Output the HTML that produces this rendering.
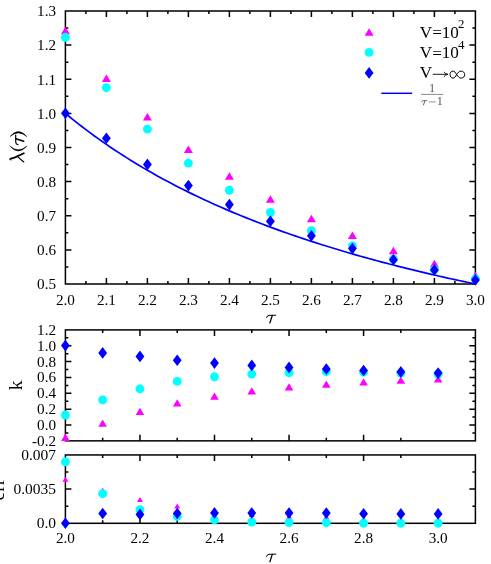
<!DOCTYPE html>
<html><head><meta charset="utf-8"><title>plot</title>
<style>
html,body{margin:0;padding:0;background:#fff;}
body{width:491px;height:564px;overflow:hidden;}
svg{display:block;will-change:transform;font-family:"Liberation Serif",serif;fill:#000;}
</style></head><body>
<svg width="491" height="564" viewBox="0 0 491 564">
<rect width="491" height="564" fill="#fff"/>
<rect x="65.4" y="11.0" width="410.00" height="273.00" stroke="#000" stroke-width="1.5" fill="none"/>
<path d="M106.40 11.0v6.0M106.40 284.0v-6.0M147.40 11.0v6.0M147.40 284.0v-6.0M188.40 11.0v6.0M188.40 284.0v-6.0M229.40 11.0v6.0M229.40 284.0v-6.0M270.40 11.0v6.0M270.40 284.0v-6.0M311.40 11.0v6.0M311.40 284.0v-6.0M352.40 11.0v6.0M352.40 284.0v-6.0M393.40 11.0v6.0M393.40 284.0v-6.0M434.40 11.0v6.0M434.40 284.0v-6.0" stroke="#000" stroke-width="1.5" fill="none"/>
<path d="M85.90 11.0v3.0M85.90 284.0v-3.0M126.90 11.0v3.0M126.90 284.0v-3.0M167.90 11.0v3.0M167.90 284.0v-3.0M208.90 11.0v3.0M208.90 284.0v-3.0M249.90 11.0v3.0M249.90 284.0v-3.0M290.90 11.0v3.0M290.90 284.0v-3.0M331.90 11.0v3.0M331.90 284.0v-3.0M372.90 11.0v3.0M372.90 284.0v-3.0M413.90 11.0v3.0M413.90 284.0v-3.0M454.90 11.0v3.0M454.90 284.0v-3.0" stroke="#000" stroke-width="1.5" fill="none"/>
<path d="M65.4 45.12h6.0M475.4 45.12h-6.0M65.4 79.25h6.0M475.4 79.25h-6.0M65.4 113.38h6.0M475.4 113.38h-6.0M65.4 147.50h6.0M475.4 147.50h-6.0M65.4 181.62h6.0M475.4 181.62h-6.0M65.4 215.75h6.0M475.4 215.75h-6.0M65.4 249.88h6.0M475.4 249.88h-6.0" stroke="#000" stroke-width="1.5" fill="none"/>
<path d="M65.4 28.06h3.0M475.4 28.06h-3.0M65.4 62.19h3.0M475.4 62.19h-3.0M65.4 96.31h3.0M475.4 96.31h-3.0M65.4 130.44h3.0M475.4 130.44h-3.0M65.4 164.56h3.0M475.4 164.56h-3.0M65.4 198.69h3.0M475.4 198.69h-3.0M65.4 232.81h3.0M475.4 232.81h-3.0M65.4 266.94h3.0M475.4 266.94h-3.0" stroke="#000" stroke-width="1.5" fill="none"/>
<rect x="65.4" y="329.9" width="410.00" height="110.95" stroke="#000" stroke-width="1.5" fill="none"/>
<path d="M139.95 329.9v6.0M139.95 440.85v-6.0M214.49 329.9v6.0M214.49 440.85v-6.0M289.04 329.9v6.0M289.04 440.85v-6.0M363.58 329.9v6.0M363.58 440.85v-6.0" stroke="#000" stroke-width="1.5" fill="none"/>
<path d="M102.67 329.9v3.0M102.67 440.85v-3.0M177.22 329.9v3.0M177.22 440.85v-3.0M251.76 329.9v3.0M251.76 440.85v-3.0M326.31 329.9v3.0M326.31 440.85v-3.0M400.85 329.9v3.0M400.85 440.85v-3.0" stroke="#000" stroke-width="1.5" fill="none"/>
<path d="M65.4 345.75h6.0M475.4 345.75h-6.0M65.4 361.60h6.0M475.4 361.60h-6.0M65.4 377.45h6.0M475.4 377.45h-6.0M65.4 393.30h6.0M475.4 393.30h-6.0M65.4 409.15h6.0M475.4 409.15h-6.0M65.4 425.00h6.0M475.4 425.00h-6.0" stroke="#000" stroke-width="1.5" fill="none"/>
<path d="M65.4 337.82h3.0M475.4 337.82h-3.0M65.4 353.68h3.0M475.4 353.68h-3.0M65.4 369.52h3.0M475.4 369.52h-3.0M65.4 385.38h3.0M475.4 385.38h-3.0M65.4 401.23h3.0M475.4 401.23h-3.0M65.4 417.08h3.0M475.4 417.08h-3.0M65.4 432.93h3.0M475.4 432.93h-3.0" stroke="#000" stroke-width="1.5" fill="none"/>
<rect x="65.4" y="454.95" width="410.00" height="68.35" stroke="#000" stroke-width="1.5" fill="none"/>
<path d="M139.95 454.95v6.0M139.95 523.3v-6.0M214.49 454.95v6.0M214.49 523.3v-6.0M289.04 454.95v6.0M289.04 523.3v-6.0M363.58 454.95v6.0M363.58 523.3v-6.0" stroke="#000" stroke-width="1.5" fill="none"/>
<path d="M102.67 454.95v3.0M102.67 523.3v-3.0M177.22 454.95v3.0M177.22 523.3v-3.0M251.76 454.95v3.0M251.76 523.3v-3.0M326.31 454.95v3.0M326.31 523.3v-3.0M400.85 454.95v3.0M400.85 523.3v-3.0" stroke="#000" stroke-width="1.5" fill="none"/>
<path d="M65.4 489.12h6.0M475.4 489.12h-6.0" stroke="#000" stroke-width="1.5" fill="none"/>
<path d="M65.4 472.04h3.0M475.4 472.04h-3.0M65.4 506.21h3.0M475.4 506.21h-3.0" stroke="#000" stroke-width="1.5" fill="none"/>
<path d="M65.40 26.70l4.50 7.50h-9.00z" fill="#ff00ff"/>
<path d="M106.40 74.40l4.50 7.50h-9.00z" fill="#ff00ff"/>
<path d="M147.40 113.00l4.50 7.50h-9.00z" fill="#ff00ff"/>
<path d="M188.40 145.40l4.50 7.50h-9.00z" fill="#ff00ff"/>
<path d="M229.40 172.30l4.50 7.50h-9.00z" fill="#ff00ff"/>
<path d="M270.40 195.20l4.50 7.50h-9.00z" fill="#ff00ff"/>
<path d="M311.40 214.80l4.50 7.50h-9.00z" fill="#ff00ff"/>
<path d="M352.40 231.60l4.50 7.50h-9.00z" fill="#ff00ff"/>
<path d="M393.40 246.70l4.50 7.50h-9.00z" fill="#ff00ff"/>
<path d="M434.40 259.80l4.50 7.50h-9.00z" fill="#ff00ff"/>
<path d="M475.40 271.50l4.50 7.50h-9.00z" fill="#ff00ff"/>
<circle cx="65.40" cy="37.30" r="4.45" fill="#00ffff"/>
<circle cx="106.40" cy="87.70" r="4.45" fill="#00ffff"/>
<circle cx="147.40" cy="129.10" r="4.45" fill="#00ffff"/>
<circle cx="188.40" cy="163.10" r="4.45" fill="#00ffff"/>
<circle cx="229.40" cy="190.30" r="4.45" fill="#00ffff"/>
<circle cx="270.40" cy="212.50" r="4.45" fill="#00ffff"/>
<circle cx="311.40" cy="230.60" r="4.45" fill="#00ffff"/>
<circle cx="352.40" cy="245.80" r="4.45" fill="#00ffff"/>
<circle cx="393.40" cy="259.00" r="4.45" fill="#00ffff"/>
<circle cx="434.40" cy="269.50" r="4.45" fill="#00ffff"/>
<circle cx="475.40" cy="278.80" r="4.45" fill="#00ffff"/>
<polyline points="65.40,113.38 69.50,116.75 73.60,120.07 77.70,123.31 81.80,126.50 85.90,129.62 90.00,132.69 94.10,135.70 98.20,138.65 102.30,141.55 106.40,144.40 110.50,147.19 114.60,149.94 118.70,152.63 122.80,155.28 126.90,157.89 131.00,160.44 135.10,162.96 139.20,165.43 143.30,167.86 147.40,170.25 151.50,172.60 155.60,174.91 159.70,177.19 163.80,179.42 167.90,181.62 172.00,183.79 176.10,185.92 180.20,188.02 184.30,190.09 188.40,192.12 192.50,194.13 196.60,196.10 200.70,198.05 204.80,199.96 208.90,201.85 213.00,203.71 217.10,205.54 221.20,207.34 225.30,209.12 229.40,210.88 233.50,212.60 237.60,214.31 241.70,215.99 245.80,217.65 249.90,219.28 254.00,220.89 258.10,222.48 262.20,224.05 266.30,225.60 270.40,227.13 274.50,228.63 278.60,230.12 282.70,231.59 286.80,233.03 290.90,234.46 295.00,235.88 299.10,237.27 303.20,238.64 307.30,240.00 311.40,241.34 315.50,242.67 319.60,243.98 323.70,245.27 327.80,246.55 331.90,247.81 336.00,249.05 340.10,250.28 344.20,251.50 348.30,252.70 352.40,253.89 356.50,255.06 360.60,256.22 364.70,257.37 368.80,258.50 372.90,259.62 377.00,260.73 381.10,261.83 385.20,262.91 389.30,263.98 393.40,265.04 397.50,266.09 401.60,267.12 405.70,268.15 409.80,269.16 413.90,270.17 418.00,271.16 422.10,272.14 426.20,273.11 430.30,274.07 434.40,275.02 438.50,275.96 442.60,276.89 446.70,277.81 450.80,278.72 454.90,279.62 459.00,280.52 463.10,281.40 467.20,282.28 471.30,283.14 475.40,284.00" fill="none" stroke="#0000ff" stroke-width="1.7"/>
<path d="M65.40 107.50l4.40 5.80l-4.40 5.80l-4.40 -5.80z" fill="#0000ff"/>
<path d="M106.40 132.50l4.40 5.80l-4.40 5.80l-4.40 -5.80z" fill="#0000ff"/>
<path d="M147.40 158.60l4.40 5.80l-4.40 5.80l-4.40 -5.80z" fill="#0000ff"/>
<path d="M188.40 179.80l4.40 5.80l-4.40 5.80l-4.40 -5.80z" fill="#0000ff"/>
<path d="M229.40 198.80l4.40 5.80l-4.40 5.80l-4.40 -5.80z" fill="#0000ff"/>
<path d="M270.40 215.50l4.40 5.80l-4.40 5.80l-4.40 -5.80z" fill="#0000ff"/>
<path d="M311.40 229.90l4.40 5.80l-4.40 5.80l-4.40 -5.80z" fill="#0000ff"/>
<path d="M352.40 242.80l4.40 5.80l-4.40 5.80l-4.40 -5.80z" fill="#0000ff"/>
<path d="M393.40 254.00l4.40 5.80l-4.40 5.80l-4.40 -5.80z" fill="#0000ff"/>
<path d="M434.40 264.10l4.40 5.80l-4.40 5.80l-4.40 -5.80z" fill="#0000ff"/>
<path d="M475.40 274.10l4.40 5.80l-4.40 5.80l-4.40 -5.80z" fill="#0000ff"/>
<path d="M65.40 433.60l4.30 7.30h-8.60z" fill="#ff00ff"/>
<path d="M102.67 419.50l4.30 7.30h-8.60z" fill="#ff00ff"/>
<path d="M139.95 407.80l4.30 7.30h-8.60z" fill="#ff00ff"/>
<path d="M177.22 399.20l4.30 7.30h-8.60z" fill="#ff00ff"/>
<path d="M214.49 392.40l4.30 7.30h-8.60z" fill="#ff00ff"/>
<path d="M251.76 387.20l4.30 7.30h-8.60z" fill="#ff00ff"/>
<path d="M289.04 383.30l4.30 7.30h-8.60z" fill="#ff00ff"/>
<path d="M326.31 380.40l4.30 7.30h-8.60z" fill="#ff00ff"/>
<path d="M363.58 378.20l4.30 7.30h-8.60z" fill="#ff00ff"/>
<path d="M400.85 376.40l4.30 7.30h-8.60z" fill="#ff00ff"/>
<path d="M438.13 375.20l4.30 7.30h-8.60z" fill="#ff00ff"/>
<circle cx="65.40" cy="415.00" r="4.45" fill="#00ffff"/>
<circle cx="102.67" cy="399.90" r="4.45" fill="#00ffff"/>
<circle cx="139.95" cy="388.90" r="4.45" fill="#00ffff"/>
<circle cx="177.22" cy="381.40" r="4.45" fill="#00ffff"/>
<circle cx="214.49" cy="376.80" r="4.45" fill="#00ffff"/>
<circle cx="251.76" cy="374.10" r="4.45" fill="#00ffff"/>
<circle cx="289.04" cy="372.70" r="4.45" fill="#00ffff"/>
<circle cx="326.31" cy="371.70" r="4.45" fill="#00ffff"/>
<circle cx="363.58" cy="372.10" r="4.45" fill="#00ffff"/>
<circle cx="400.85" cy="373.00" r="4.45" fill="#00ffff"/>
<circle cx="438.13" cy="374.00" r="4.45" fill="#00ffff"/>
<path d="M65.40 339.80l4.40 5.80l-4.40 5.80l-4.40 -5.80z" fill="#0000ff"/>
<path d="M102.67 347.10l4.40 5.80l-4.40 5.80l-4.40 -5.80z" fill="#0000ff"/>
<path d="M139.95 350.60l4.40 5.80l-4.40 5.80l-4.40 -5.80z" fill="#0000ff"/>
<path d="M177.22 354.50l4.40 5.80l-4.40 5.80l-4.40 -5.80z" fill="#0000ff"/>
<path d="M214.49 357.30l4.40 5.80l-4.40 5.80l-4.40 -5.80z" fill="#0000ff"/>
<path d="M251.76 359.60l4.40 5.80l-4.40 5.80l-4.40 -5.80z" fill="#0000ff"/>
<path d="M289.04 361.60l4.40 5.80l-4.40 5.80l-4.40 -5.80z" fill="#0000ff"/>
<path d="M326.31 363.20l4.40 5.80l-4.40 5.80l-4.40 -5.80z" fill="#0000ff"/>
<path d="M363.58 364.70l4.40 5.80l-4.40 5.80l-4.40 -5.80z" fill="#0000ff"/>
<path d="M400.85 366.10l4.40 5.80l-4.40 5.80l-4.40 -5.80z" fill="#0000ff"/>
<path d="M438.13 367.30l4.40 5.80l-4.40 5.80l-4.40 -5.80z" fill="#0000ff"/>
<path d="M65.40 476.70l3.00 5.00h-6.00z" fill="#ff00ff"/>
<path d="M102.67 487.80l3.00 5.00h-6.00z" fill="#ff00ff"/>
<path d="M139.95 497.00l3.00 5.00h-6.00z" fill="#ff00ff"/>
<path d="M177.22 503.60l3.00 5.00h-6.00z" fill="#ff00ff"/>
<path d="M214.49 509.50l3.00 5.00h-6.00z" fill="#ff00ff"/>
<path d="M251.76 511.90l3.00 5.00h-6.00z" fill="#ff00ff"/>
<path d="M289.04 513.40l3.00 5.00h-6.00z" fill="#ff00ff"/>
<path d="M326.31 514.30l3.00 5.00h-6.00z" fill="#ff00ff"/>
<path d="M363.58 517.50l3.00 5.00h-6.00z" fill="#ff00ff"/>
<path d="M400.85 518.00l3.00 5.00h-6.00z" fill="#ff00ff"/>
<path d="M438.13 518.00l3.00 5.00h-6.00z" fill="#ff00ff"/>
<circle cx="65.40" cy="461.80" r="4.45" fill="#00ffff"/>
<circle cx="102.67" cy="493.70" r="4.45" fill="#00ffff"/>
<circle cx="139.95" cy="509.60" r="4.45" fill="#00ffff"/>
<circle cx="177.22" cy="516.30" r="4.45" fill="#00ffff"/>
<circle cx="214.49" cy="519.80" r="4.45" fill="#00ffff"/>
<circle cx="251.76" cy="522.00" r="4.45" fill="#00ffff"/>
<circle cx="289.04" cy="522.50" r="4.45" fill="#00ffff"/>
<circle cx="326.31" cy="522.70" r="4.45" fill="#00ffff"/>
<circle cx="363.58" cy="523.20" r="4.45" fill="#00ffff"/>
<circle cx="400.85" cy="523.20" r="4.45" fill="#00ffff"/>
<circle cx="438.13" cy="523.20" r="4.45" fill="#00ffff"/>
<path d="M65.40 517.40l4.40 5.80l-4.40 5.80l-4.40 -5.80z" fill="#0000ff"/>
<path d="M102.67 507.70l4.40 5.80l-4.40 5.80l-4.40 -5.80z" fill="#0000ff"/>
<path d="M139.95 508.60l4.40 5.80l-4.40 5.80l-4.40 -5.80z" fill="#0000ff"/>
<path d="M177.22 507.70l4.40 5.80l-4.40 5.80l-4.40 -5.80z" fill="#0000ff"/>
<path d="M214.49 507.10l4.40 5.80l-4.40 5.80l-4.40 -5.80z" fill="#0000ff"/>
<path d="M251.76 507.20l4.40 5.80l-4.40 5.80l-4.40 -5.80z" fill="#0000ff"/>
<path d="M289.04 507.20l4.40 5.80l-4.40 5.80l-4.40 -5.80z" fill="#0000ff"/>
<path d="M326.31 507.20l4.40 5.80l-4.40 5.80l-4.40 -5.80z" fill="#0000ff"/>
<path d="M363.58 508.00l4.40 5.80l-4.40 5.80l-4.40 -5.80z" fill="#0000ff"/>
<path d="M400.85 508.10l4.40 5.80l-4.40 5.80l-4.40 -5.80z" fill="#0000ff"/>
<path d="M438.13 508.10l4.40 5.80l-4.40 5.80l-4.40 -5.80z" fill="#0000ff"/>
<text x="56.10" y="16.30" font-size="15.2" text-anchor="end" >1.3</text>
<text x="56.10" y="50.42" font-size="15.2" text-anchor="end" >1.2</text>
<text x="56.10" y="84.55" font-size="15.2" text-anchor="end" >1.1</text>
<text x="56.10" y="118.67" font-size="15.2" text-anchor="end" >1.0</text>
<text x="56.10" y="152.80" font-size="15.2" text-anchor="end" >0.9</text>
<text x="56.10" y="186.93" font-size="15.2" text-anchor="end" >0.8</text>
<text x="56.10" y="221.05" font-size="15.2" text-anchor="end" >0.7</text>
<text x="56.10" y="255.18" font-size="15.2" text-anchor="end" >0.6</text>
<text x="56.10" y="289.30" font-size="15.2" text-anchor="end" >0.5</text>
<text x="65.40" y="305.00" font-size="15.2" text-anchor="middle" >2.0</text>
<text x="106.40" y="305.00" font-size="15.2" text-anchor="middle" >2.1</text>
<text x="147.40" y="305.00" font-size="15.2" text-anchor="middle" >2.2</text>
<text x="188.40" y="305.00" font-size="15.2" text-anchor="middle" >2.3</text>
<text x="229.40" y="305.00" font-size="15.2" text-anchor="middle" >2.4</text>
<text x="270.40" y="305.00" font-size="15.2" text-anchor="middle" >2.5</text>
<text x="311.40" y="305.00" font-size="15.2" text-anchor="middle" >2.6</text>
<text x="352.40" y="305.00" font-size="15.2" text-anchor="middle" >2.7</text>
<text x="393.40" y="305.00" font-size="15.2" text-anchor="middle" >2.8</text>
<text x="434.40" y="305.00" font-size="15.2" text-anchor="middle" >2.9</text>
<text x="475.40" y="305.00" font-size="15.2" text-anchor="middle" >3.0</text>
<text x="56.10" y="334.90" font-size="15.2" text-anchor="end" >1.2</text>
<text x="56.10" y="350.75" font-size="15.2" text-anchor="end" >1.0</text>
<text x="56.10" y="366.60" font-size="15.2" text-anchor="end" >0.8</text>
<text x="56.10" y="382.45" font-size="15.2" text-anchor="end" >0.6</text>
<text x="56.10" y="398.30" font-size="15.2" text-anchor="end" >0.4</text>
<text x="56.10" y="414.15" font-size="15.2" text-anchor="end" >0.2</text>
<text x="56.10" y="430.00" font-size="15.2" text-anchor="end" >0.0</text>
<text x="56.10" y="445.85" font-size="15.2" text-anchor="end" >-0.2</text>
<text x="56.00" y="459.95" font-size="15.5" text-anchor="end" >0.007</text>
<text x="56.00" y="494.12" font-size="15.5" text-anchor="end" >0.0035</text>
<text x="56.00" y="528.30" font-size="15.5" text-anchor="end" >0.0</text>
<text x="65.40" y="543.40" font-size="15.2" text-anchor="middle" >2.0</text>
<text x="139.95" y="543.40" font-size="15.2" text-anchor="middle" >2.2</text>
<text x="214.49" y="543.40" font-size="15.2" text-anchor="middle" >2.4</text>
<text x="289.04" y="543.40" font-size="15.2" text-anchor="middle" >2.6</text>
<text x="363.58" y="543.40" font-size="15.2" text-anchor="middle" >2.8</text>
<text x="438.13" y="543.40" font-size="15.2" text-anchor="middle" >3.0</text>
<g fill="none" stroke="#000" stroke-linecap="round"><path d="M10.6 160.3Q9.6 159.6 10.3 158.6" stroke-width="0.9"/><path d="M10.3 158.9L15 157.3L23.8 153.3" stroke-width="1.8"/><path d="M17.2 156.4L23.8 162.0" stroke-width="1.15"/></g>
<path d="M9.8 146.0Q18.3 156.0 27.0 146.0Q18.3 153.4 9.8 146.0z" fill="#000" stroke="#000" stroke-width="0.45"/>
<path d="M10.0 136.6Q18.3 126.6 26.8 136.6Q18.3 129.2 10.0 136.6z" fill="#000" stroke="#000" stroke-width="0.45"/>
<g transform="translate(23.9 144.9) rotate(-90)">
<path d="M0.16 -5.88Q0.95 -8.09 2.73 -8.14L9.87 -8.24" fill="none" stroke="#000" stroke-width="1.20" stroke-linecap="round"/>
<path d="M6.14 -7.98Q4.73 -3.57 3.68 -0.26" fill="none" stroke="#000" stroke-width="1.56" stroke-linecap="round"/>
</g>
<text transform="translate(22.2 385.3) rotate(-90)" font-size="19.5" text-anchor="middle">k</text>
<text transform="translate(4.1 489.6) rotate(-90)" font-size="19.5" text-anchor="middle">err</text>
<path d="M369.10 28.20l4.50 7.50h-9.00z" fill="#ff00ff"/>
<circle cx="369.10" cy="52.40" r="4.45" fill="#00ffff"/>
<path d="M369.10 67.10l4.40 5.80l-4.40 5.80l-4.40 -5.80z" fill="#0000ff"/>
<path d="M381.3 93.3H412.2" stroke="#0000ff" stroke-width="1.5"/>
<text x="419.8" y="37.5" font-size="17.1">V<tspan dy="0.9">=</tspan><tspan dy="-0.9">10</tspan><tspan dy="-9.1" dx="-0.8" font-size="12.9">2</tspan></text>
<text x="419.8" y="57.85" font-size="17.1">V<tspan dy="0.9">=</tspan><tspan dy="-0.9">10</tspan><tspan dy="-9.1" dx="-0.8" font-size="12.9">4</tspan></text>
<text x="419.8" y="78.2" font-size="17.1">V</text>
<path d="M432.8 74.3H447.4M443.9 71.9Q445.3 73.9 447.9 74.3Q445.3 74.7 443.9 76.7" fill="none" stroke="#000" stroke-width="0.9"/>
<path d="M456.6 74.6C458.06 72.50 459.19 71.10 461.06 71.10C463.24 71.10 464.70 72.67 464.70 74.6C464.70 76.52 463.24 78.10 461.06 78.10C459.19 78.10 458.06 76.70 456.6 74.6C455.41 72.50 454.49 71.10 452.97 71.10C451.19 71.10 450.00 72.67 450.00 74.6C450.00 76.52 451.19 78.10 452.97 78.10C454.49 78.10 455.41 76.70 456.6 74.6" fill="none" stroke="#000" stroke-width="1.0"/>
<text transform="translate(432 91.8) scale(0.86 1)" font-size="13.2" text-anchor="middle" fill="#4a4a4a">1</text>
<path d="M421.1 94.4H443.2" stroke="#4a4a4a" stroke-width="0.65"/>
<path d="M421.59 101.85Q422.02 100.63 423.01 100.60L426.95 100.55" fill="none" stroke="#4a4a4a" stroke-width="0.70" stroke-linecap="round"/>
<path d="M424.89 100.69Q424.11 103.13 423.53 104.95" fill="none" stroke="#4a4a4a" stroke-width="0.91" stroke-linecap="round"/>
<path d="M428.7 101.9H435.6" stroke="#4a4a4a" stroke-width="0.6"/>
<text transform="translate(439.8 104.9) scale(0.86 1)" font-size="13.2" text-anchor="middle" fill="#4a4a4a">1</text>
<path d="M266.55 317.50Q267.30 315.40 269.00 315.35L275.80 315.25" fill="none" stroke="#000" stroke-width="1.00" stroke-linecap="round"/>
<path d="M272.25 315.50Q270.90 319.70 269.90 322.85" fill="none" stroke="#000" stroke-width="1.30" stroke-linecap="round"/>
<path d="M266.55 556.40Q267.30 554.30 269.00 554.25L275.80 554.15" fill="none" stroke="#000" stroke-width="1.00" stroke-linecap="round"/>
<path d="M272.25 554.40Q270.90 558.60 269.90 561.75" fill="none" stroke="#000" stroke-width="1.30" stroke-linecap="round"/>
</svg>
</body></html>
